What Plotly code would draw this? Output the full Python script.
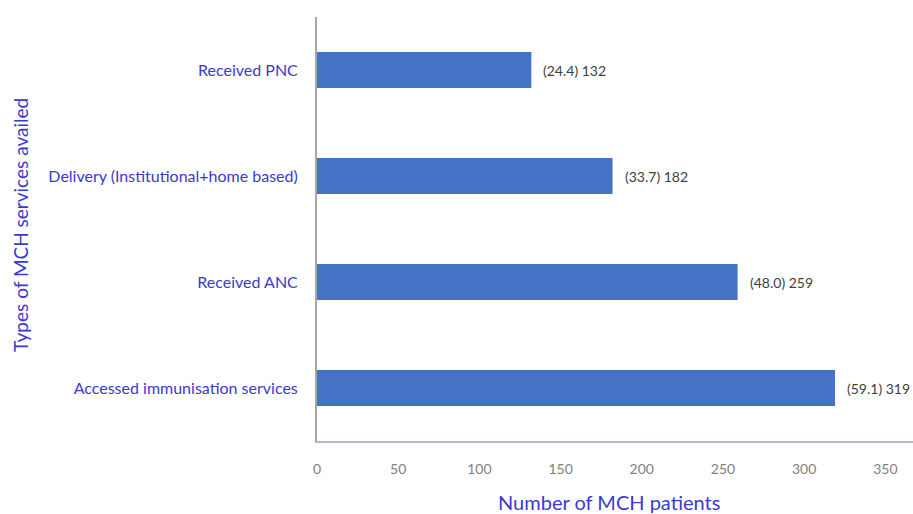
import plotly.graph_objects as go

categories = ["Accessed immunisation services", "Received ANC",
              "Delivery (Institutional+home based)", "Received PNC"]
counts = [319, 259, 182, 132]
percents = [59.1, 48.0, 33.7, 24.4]
x_ticks = [0, 50, 100, 150, 200, 250, 300, 350]

labels = [f"({p:.1f}) {c}" for p, c in zip(percents, counts)]

FONT = "Lato, sans-serif"
blue = "#3A3AD0"

fig = go.Figure()
fig.add_trace(go.Bar(
    x=counts, y=categories, orientation="h",
    marker=dict(color="#4472C4", line=dict(width=0)),
    width=0.34, hoverinfo="x+y", showlegend=False,
))

for c, cat, lab in zip(counts, categories, labels):
    fig.add_annotation(x=c, y=cat, text=lab, xref="x", yref="y",
                       xanchor="left", yanchor="middle", xshift=10,
                       showarrow=False,
                       font=dict(family=FONT, size=14, color="#404040"))

fig.add_annotation(text="Number of MCH patients", xref="paper", yref="paper",
                   x=0.49, y=0, yshift=-61, xanchor="center", yanchor="middle",
                   showarrow=False, font=dict(family=FONT, size=20, color=blue))
fig.add_annotation(text="Types of MCH services availed", xref="paper", yref="paper",
                   x=0, xshift=-297, y=0.5, yshift=4, textangle=-90,
                   xanchor="center", yanchor="middle",
                   showarrow=False, font=dict(family=FONT, size=19, color=blue))

fig.update_layout(
    width=913, height=514,
    margin=dict(l=317, r=0, t=17, b=73),
    paper_bgcolor="white", plot_bgcolor="white",
    xaxis=dict(range=[0, 367], tickvals=x_ticks, showgrid=False, zeroline=False,
               showline=True, linecolor="#AFB9D0", linewidth=2,
               ticks="outside", ticklen=14, tickcolor="rgba(0,0,0,0)",
               tickfont=dict(family=FONT, size=14, color="#7F7F7F")),
    yaxis=dict(showgrid=False, zeroline=False, showline=True, linecolor="#A6A6A6",
               linewidth=2, ticks="outside", ticklen=14, tickcolor="rgba(0,0,0,0)",
               categoryorder="array", categoryarray=categories,
               range=[-0.5, 3.5],
               tickfont=dict(family=FONT, size=16, color=blue)),
    bargap=0.66,
)

fig.write_html("out.html", config={"displayModeBar": False},
               post_script="document.body.style.margin='0';document.body.style.overflow='hidden';")
